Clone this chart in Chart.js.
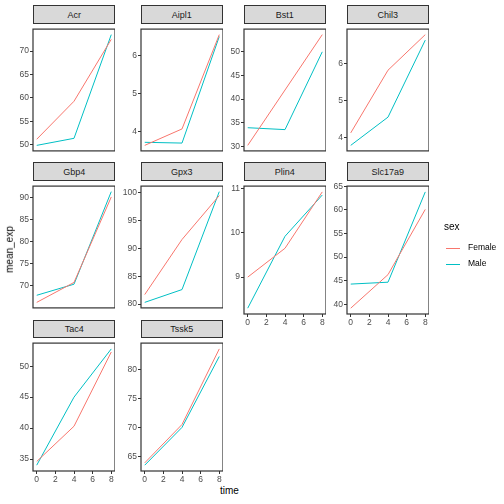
<!DOCTYPE html>
<html>
<head>
<meta charset="UTF-8">
<script src="https://cdn.jsdelivr.net/npm/chart.js"></script>
<style>
  body { margin:0; background:#fff; font-family:"Liberation Sans", Arial, sans-serif; }
  #wrap { position:relative; width:504px; height:504px; }
  .strip { position:absolute; background:#d9d9d9; border:1px solid #333; box-sizing:border-box;
           font-size:9px; color:#1a1a1a; text-align:center; }
  .box { position:absolute; }
  .lbl { position:absolute; font-size:10px; color:#000; }
</style>
</head>
<body>
<div id="wrap"></div>
<script>
// data
const genes = ['Acr','Aipl1','Bst1','Chil3','Gbp4','Gpx3','Plin4','Slc17a9','Tac4','Tssk5'];
const times = [0, 4, 8];
const female = [
  [51.2, 59.3, 72.5], [3.65, 4.08, 6.55], [30.3, 41.9, 53.5], [4.12, 5.83, 6.8],
  [66.3, 70.8, 90.1], [81.7, 91.6, 99.5], [9.0, 9.65, 10.92], [39.2, 46.3, 60.1],
  [34.6, 40.3, 52.3], [63.9, 70.5, 83.5]
];
const male = [
  [49.9, 51.4, 73.5], [3.73, 3.71, 6.5], [34.0, 33.6, 49.9], [3.78, 4.55, 6.65],
  [67.9, 70.4, 91.3], [80.3, 82.6, 100.2], [8.3, 9.92, 10.85], [44.3, 44.7, 63.8],
  [34.0, 45.0, 52.8], [63.5, 70.0, 82.2]
];
const yTicks = [
  [50,55,60,65,70], [4,5,6], [30,35,40,45,50], [4,5,6],
  [70,75,80,85,90], [80,85,90,95,100], [9,10,11], [40,45,50,55,60,65],
  [35,40,45,50], [65,70,75,80]
];
const xTicks = [0, 2, 4, 6, 8];

const colLeft = [33.3, 140.7, 243.7, 346.7];
const panelW = 82;
const rows = [{strip:5, top:23, bottom:157}, {strip:162.3, top:180.3, bottom:314.3}, {strip:319.5, top:337.3, bottom:471.3}];
const showX = [false,false,false,false,false,false,true,true,true,true];

const wrap = document.getElementById('wrap');
const border = {
  id:'border',
  afterDraw(c) {
    const a = c.chartArea, ctx = c.ctx;
    ctx.save(); ctx.strokeStyle = '#333'; ctx.lineWidth = 1.2;
    ctx.strokeRect(a.left, a.top, a.right - a.left, a.bottom - a.top);
    ctx.restore();
  }
};

genes.forEach((g, i) => {
  const r = rows[Math.floor(i / 4)], L = colLeft[i % 4];
  const s = document.createElement('div');
  s.className = 'strip';
  s.style.cssText = `left:${L}px;top:${r.strip}px;width:${panelW}px;height:${r.top - r.strip + 1}px;line-height:${r.top - r.strip}px`;
  s.textContent = g;
  wrap.appendChild(s);

  const axW = 30, axH = showX[i] ? 14 : 0;
  const d = document.createElement('div');
  d.className = 'box';
  d.style.cssText = `left:${L - axW}px;top:${r.top}px;width:${panelW + axW}px;height:${r.bottom - r.top + axH}px`;
  const cv = document.createElement('canvas');
  d.appendChild(cv); wrap.appendChild(d);

  const all = female[i].concat(male[i]);
  const lo = Math.min(...all), hi = Math.max(...all), pad = (hi - lo) * 0.05;
  const tickFont = { family:'Liberation Sans', size:8.5 };
  new Chart(cv, {
    type:'line',
    data:{ datasets:[
      { label:'Female', data: times.map((t, k) => ({x:t, y:female[i][k]})), borderColor:'#F8766D', borderWidth:1, pointRadius:0, tension:0 },
      { label:'Male', data: times.map((t, k) => ({x:t, y:male[i][k]})), borderColor:'#00BFC4', borderWidth:1, pointRadius:0, tension:0 }
    ]},
    options:{
      responsive:true, maintainAspectRatio:false, animation:false,
      layout:{ padding:0 },
      plugins:{ legend:{display:false}, tooltip:{enabled:false} },
      scales:{
        x:{ type:'linear', min:-0.4, max:8.4, display:showX[i],
            afterBuildTicks: sc => { sc.ticks = xTicks.map(v => ({value:v})); },
            afterFit: sc => { sc.height = axH; },
            grid:{ drawOnChartArea:false, tickLength:3, color:'#333' }, border:{display:false},
            ticks:{ color:'#4d4d4d', font:tickFont, padding:1, maxRotation:0 } },
        y:{ min:lo - pad, max:hi + pad,
            afterBuildTicks: sc => { sc.ticks = yTicks[i].map(v => ({value:v})); },
            afterFit: sc => { sc.width = axW; },
            grid:{ drawOnChartArea:false, tickLength:3, color:'#333' }, border:{display:false},
            ticks:{ color:'#4d4d4d', font:tickFont, padding:1 } }
      }
    },
    plugins:[border]
  });
});

function label(txt, css) {
  const e = document.createElement('div'); e.className = 'lbl'; e.style.cssText = css; e.textContent = txt; wrap.appendChild(e);
}
label('time', 'left:220px;top:485px;');
label('mean_exp', 'left:-14px;top:244px;transform:rotate(-90deg);');
label('sex', 'left:444px;top:221px;');
label('Female', 'left:468px;top:242px;font-size:8.5px;');
label('Male', 'left:468px;top:258px;font-size:8.5px;');
const sw = (y, c) => { const e = document.createElement('div'); e.style.cssText = `position:absolute;left:446px;top:${y}px;width:14px;height:1px;background:${c}`; wrap.appendChild(e); };
sw(248, '#F8766D'); sw(264, '#00BFC4');
</script>
</body>
</html>
